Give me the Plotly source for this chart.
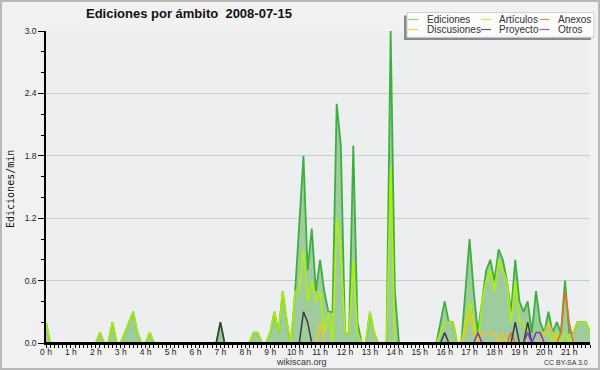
import plotly.graph_objects as go

# ---------------- data (10-minute bins, edits per minute) ----------------
hour_ticks = list(range(22))
hour_labels = [f"{h} h" for h in hour_ticks]
y_ticks = [0.0, 0.6, 1.2, 1.8, 2.4, 3.0]

ediciones = [
    0.2, 0, 0, 0, 0, 0, 0, 0, 0, 0, 0, 0,
    0, 0.1, 0, 0, 0.2, 0, 0, 0.1, 0.2, 0.3, 0.1, 0,
    0, 0.1, 0, 0, 0, 0, 0, 0, 0, 0, 0, 0,
    0, 0, 0, 0, 0, 0, 0.2, 0, 0, 0, 0, 0,
    0, 0, 0.1, 0.1, 0, 0, 0.1, 0.3, 0.1, 0.5, 0.2, 0,
    0.5, 1.1, 1.8, 0.7, 1.1, 0.5, 0.8, 0.5, 0.3, 0.3, 2.3, 1.9,
    0.1, 0.1, 1.9, 0.2, 0, 0, 0.3, 0.1, 0, 0, 0, 3.0,
    0.5, 0, 0, 0, 0, 0, 0, 0, 0, 0, 0, 0.2,
    0.4, 0.2, 0.2, 0, 0, 0.5, 1.0, 0.5, 0.1, 0.4, 0.7, 0.8,
    0.6, 0.9, 0.8, 0.6, 0.3, 0.8, 0.4, 0.3, 0.4, 0.1, 0.5, 0.2,
    0.1, 0.3, 0.1, 0.2, 0.1, 0.6, 0.1, 0.1, 0.2, 0.2, 0.2, 0.1,
]
articulos = [
    0.2, 0, 0, 0, 0, 0, 0, 0, 0, 0, 0, 0,
    0, 0.1, 0, 0, 0.2, 0, 0, 0.1, 0.2, 0.3, 0.1, 0,
    0, 0.1, 0, 0, 0, 0, 0, 0, 0, 0, 0, 0,
    0, 0, 0, 0, 0, 0, 0, 0, 0, 0, 0, 0,
    0, 0, 0.1, 0.1, 0, 0, 0.1, 0.3, 0.1, 0.5, 0.2, 0,
    0.5, 0.5, 0.9, 0.4, 0.6, 0.4, 0.5, 0.1, 0.3, 0, 1.2, 0.9,
    0.1, 0.1, 0.8, 0.1, 0, 0, 0.3, 0.1, 0, 0, 0, 1.7,
    0, 0, 0, 0, 0, 0, 0, 0, 0, 0, 0, 0.1,
    0.2, 0.2, 0.2, 0, 0, 0.2, 0.4, 0.2, 0, 0.4, 0.6, 0.7,
    0.5, 0.8, 0.7, 0.6, 0.2, 0.6, 0.2, 0.2, 0, 0, 0.1, 0.1,
    0.1, 0.1, 0, 0.1, 0, 0.1, 0, 0.1, 0.2, 0.2, 0.2, 0.1,
]
anexos = [
    0, 0, 0, 0, 0, 0, 0, 0, 0, 0, 0, 0,
    0, 0, 0, 0, 0, 0, 0, 0, 0, 0, 0, 0,
    0, 0, 0, 0, 0, 0, 0, 0, 0, 0, 0, 0,
    0, 0, 0, 0, 0, 0, 0, 0, 0, 0, 0, 0,
    0, 0, 0, 0, 0, 0, 0, 0, 0, 0, 0, 0,
    0, 0, 0, 0, 0, 0, 0, 0, 0, 0, 0, 0,
    0, 0, 0, 0, 0, 0, 0, 0, 0, 0, 0, 0,
    0, 0, 0, 0, 0, 0, 0, 0, 0, 0, 0, 0,
    0, 0, 0, 0, 0, 0, 0, 0, 0, 0, 0, 0,
    0, 0, 0, 0, 0.1, 0, 0, 0, 0, 0, 0, 0,
    0, 0, 0, 0, 0.1, 0.5, 0.2, 0, 0, 0, 0, 0,
]
discusiones = [
    0, 0, 0, 0, 0, 0, 0, 0, 0, 0, 0, 0,
    0, 0, 0, 0, 0, 0, 0, 0, 0, 0, 0, 0,
    0, 0, 0, 0, 0, 0, 0, 0, 0, 0, 0, 0,
    0, 0, 0, 0, 0, 0, 0, 0, 0, 0, 0, 0,
    0, 0, 0, 0, 0, 0, 0, 0, 0, 0, 0, 0,
    0, 0, 0, 0, 0, 0, 0.2, 0, 0, 0, 0, 0,
    0, 0, 0, 0, 0, 0, 0, 0, 0, 0, 0, 0,
    0, 0, 0, 0, 0, 0, 0, 0, 0, 0, 0, 0,
    0, 0, 0, 0, 0, 0.1, 0.3, 0.1, 0, 0.1, 0.1, 0.1,
    0.1, 0, 0.1, 0, 0, 0, 0, 0, 0, 0, 0, 0,
    0.1, 0.2, 0.1, 0, 0, 0, 0, 0, 0, 0, 0, 0,
]
proyecto = [
    0, 0, 0, 0, 0, 0, 0, 0, 0, 0, 0, 0,
    0, 0, 0, 0, 0, 0, 0, 0, 0, 0, 0, 0,
    0, 0, 0, 0, 0, 0, 0, 0, 0, 0, 0, 0,
    0, 0, 0, 0, 0, 0, 0.2, 0, 0, 0, 0, 0,
    0, 0, 0, 0, 0, 0, 0, 0, 0, 0, 0, 0,
    0, 0, 0.3, 0.2, 0, 0, 0, 0, 0, 0, 0, 0,
    0, 0, 0, 0, 0, 0, 0, 0, 0, 0, 0, 0,
    0, 0, 0, 0, 0, 0, 0, 0, 0, 0, 0, 0,
    0.1, 0, 0, 0, 0, 0, 0, 0, 0, 0, 0, 0,
    0, 0, 0, 0, 0, 0.2, 0, 0, 0.2, 0, 0, 0,
    0, 0, 0, 0, 0, 0, 0, 0, 0, 0, 0, 0,
]
otros = [
    0, 0, 0, 0, 0, 0, 0, 0, 0, 0, 0, 0,
    0, 0, 0, 0, 0, 0, 0, 0, 0, 0, 0, 0,
    0, 0, 0, 0, 0, 0, 0, 0, 0, 0, 0, 0,
    0, 0, 0, 0, 0, 0, 0, 0, 0, 0, 0, 0,
    0, 0, 0, 0, 0, 0, 0, 0, 0, 0, 0, 0,
    0, 0, 0, 0, 0, 0, 0, 0, 0, 0, 0, 0,
    0, 0, 0, 0, 0, 0, 0, 0, 0, 0, 0, 0,
    0, 0, 0, 0, 0, 0, 0, 0, 0, 0, 0, 0,
    0, 0, 0, 0, 0, 0, 0, 0, 0.1, 0, 0, 0,
    0, 0, 0, 0, 0, 0, 0, 0, 0.1, 0, 0.1, 0.1,
    0, 0, 0, 0, 0, 0, 0, 0, 0, 0, 0, 0,
]
series_names = ["Ediciones", "Artículos", "Anexos", "Discusiones", "Proyecto", "Otros"]
series_values = [ediciones, articulos, anexos, discusiones, proyecto, otros]
series_colors = ["#3cb03c", "#b0f000", "#f26a1b", "#f7c31a", "#3c3c3c", "#8a2be2"]
series_widths = [1.8, 1.6, 1.5, 1.5, 1.5, 1.5]
legend_colors = ["#86d686", "#cdee4a", "#f58a55", "#f7d04a", "#606060", "#9955ee"]

bins_per_hour = 6
times = [i / bins_per_hour for i in range(len(ediciones))]

# ---------------- layout geometry helpers (pixel -> paper) ----------------
W, H = 600, 370
L, R, T, B = 46, 10, 31, 27
PW, PH = W - L - R, H - T - B


def px(x):
    return (x - L) / PW


def py(y):
    return (H - B - y) / PH


FONT = "Liberation Sans, Arial, sans-serif"

fig = go.Figure()
for i, (name, vals, col, lw) in enumerate(zip(series_names, series_values, series_colors, series_widths)):
    kw = dict(x=times, y=vals, name=name, mode="lines",
              line=dict(color=col, width=lw), showlegend=False, hoverinfo="skip")
    if i == 0:
        kw.update(fill="tozeroy", fillcolor="#9ecc9e")
    fig.add_trace(go.Scatter(**kw))

shapes = []
annotations = []

# baseline drawn over the traces (axis ruler)
shapes.append(dict(type="line", xref="paper", yref="y", x0=0, x1=1, y0=0, y1=0,
                   line=dict(color="#000000", width=2), layer="above"))

# outer border
shapes.append(dict(type="rect", xref="paper", yref="paper",
                   x0=px(1), x1=px(599), y0=py(369), y1=py(1),
                   line=dict(color="#b8b8b8", width=2), layer="above"))

# legend box with shadow
shapes.append(dict(type="rect", xref="paper", yref="paper",
                   x0=px(404), x1=px(591), y0=py(40), y1=py(15.5),
                   line=dict(width=0), fillcolor="#8a8a8a", layer="above"))
shapes.append(dict(type="rect", xref="paper", yref="paper",
                   x0=px(407), x1=px(594), y0=py(37.3), y1=py(12.5),
                   line=dict(color="#d0d0d0", width=1), fillcolor="#fbfbfb", layer="above"))

legend_cols = [(408, 425), (481, 497), (539.5, 556)]
legend_rows = [19.5, 29.5]
for k, (name, col) in enumerate(zip(series_names, legend_colors)):
    r, c = divmod(k, 3)
    sx, tx = legend_cols[c]
    yy = legend_rows[r]
    shapes.append(dict(type="line", xref="paper", yref="paper",
                       x0=px(sx), x1=px(sx + 10), y0=py(yy), y1=py(yy),
                       line=dict(color=col, width=1.2), layer="above"))
    annotations.append(dict(text=name, xref="paper", yref="paper",
                            x=px(tx), y=py(yy), xanchor="left", yanchor="middle",
                            showarrow=False, font=dict(family=FONT, size=10, color="#333333")))

# title
annotations.append(dict(text="<b>Ediciones por ámbito  2008-07-15</b>", xref="paper", yref="paper",
                        x=px(188.5), y=py(14), xanchor="center", yanchor="middle", showarrow=False,
                        font=dict(family=FONT, size=13, color="#111111")))
# y axis title
annotations.append(dict(text="Ediciones/min", xref="paper", yref="paper",
                        x=px(10), y=py(189), xanchor="center", yanchor="middle", showarrow=False,
                        textangle=-90, font=dict(family="DejaVu Sans Mono, monospace", size=10, color="#111111")))
# footer
annotations.append(dict(text="wikiscan.org", xref="paper", yref="paper",
                        x=px(301), y=py(362), xanchor="center", yanchor="middle", showarrow=False,
                        font=dict(family=FONT, size=9, color="#333333")))
annotations.append(dict(text="CC BY-SA 3.0", xref="paper", yref="paper",
                        x=px(590), y=py(362.5), xanchor="right", yanchor="middle", showarrow=False,
                        font=dict(family=FONT, size=7, color="#333333")))

fig.update_layout(
    width=W, height=H,
    margin=dict(l=L, r=R, t=T, b=B, pad=0),
    paper_bgcolor="#f1f1f1",
    plot_bgcolor="#eceef0",
    showlegend=False,
    shapes=shapes,
    annotations=annotations,
    font=dict(family=FONT, size=8.5, color="#222222"),
)
fig.update_xaxes(
    range=[0, times[-1]],
    tickvals=hour_ticks, ticktext=hour_labels,
    ticks="outside", ticklen=3, tickwidth=1, tickcolor="#000000",
    minor=dict(dtick=1 / bins_per_hour, tick0=0, ticks="outside", ticklen=3, tickwidth=1, tickcolor="#000000"),
    showline=True, linecolor="#000000", linewidth=1.5,
    showgrid=False, zeroline=False,
    ticklabelstandoff=-3,
    tickfont=dict(family=FONT, size=8.5, color="#222222"),
)
fig.update_yaxes(
    range=[0, 3.0],
    tickvals=y_ticks, ticktext=[f"{v:.1f}" for v in y_ticks],
    ticks="outside", ticklen=6, tickwidth=1, tickcolor="#000000",
    minor=dict(dtick=0.2, tick0=0, ticks="outside", ticklen=3, tickwidth=1, tickcolor="#000000", showgrid=False),
    showline=True, linecolor="#000000", linewidth=1.5,
    showgrid=True, gridcolor="#cccccc", gridwidth=1,
    zeroline=False,
    tickfont=dict(family=FONT, size=8.5, color="#222222"),
)

fig.write_html(
    "out.html",
    config={"displayModeBar": False},
    post_script="document.body.style.margin='0';document.body.style.overflow='hidden';",
)
